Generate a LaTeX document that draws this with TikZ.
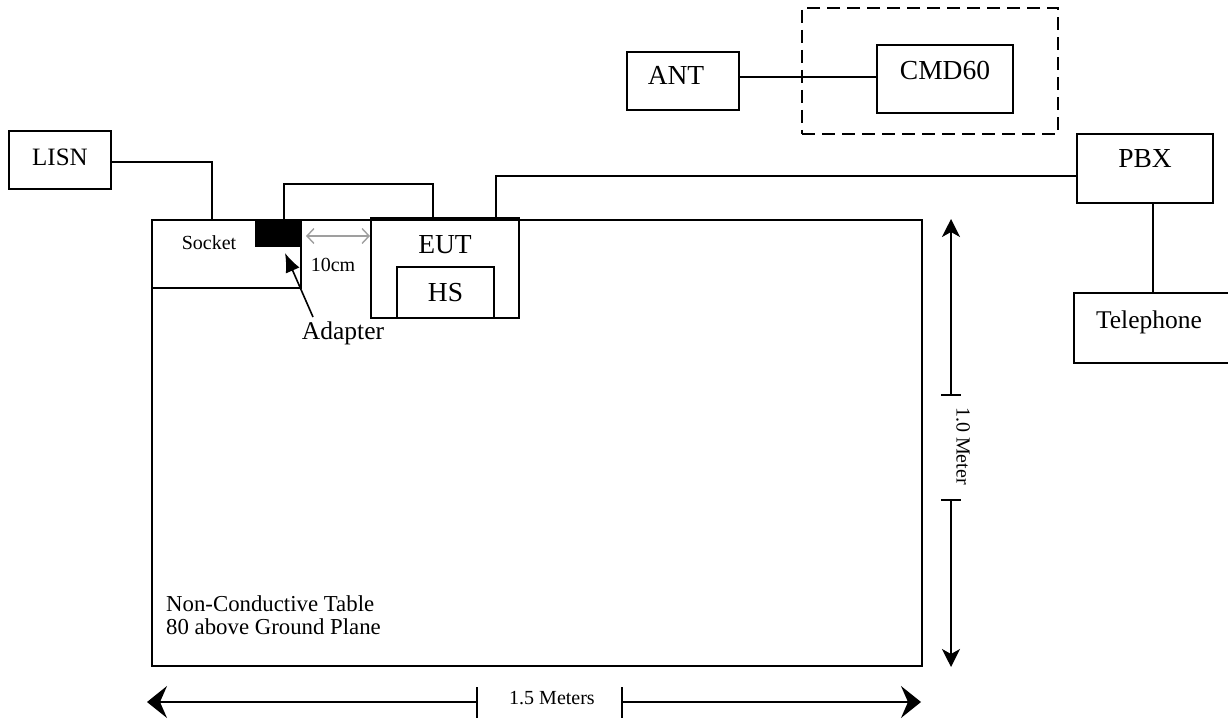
\documentclass[tikz,border=0pt]{standalone}
\usepackage{fontspec}
\setmainfont{Liberation Serif}
\usetikzlibrary{arrows.meta}
\newcommand{\myfs}[1]{\fontsize{#1}{#1}\selectfont}
\begin{document}
\begin{tikzpicture}[x=1pt,y=-1pt,
  box/.style={draw,line width=1.6pt,inner sep=0pt,rectangle},
  wire/.style={line width=1.6pt},
  big/.style={font=\myfs{27.5}},
  small/.style={font=\myfs{20}},
  vhead/.style={-{Stealth[length=18pt,width=18pt,inset=5pt]}},
  hhead/.style={-{Stealth[length=20pt,width=32pt,inset=7pt]}}]
\useasboundingbox (0,0) rectangle (1228,722);
% table and items on it
\node[box,minimum width=770,minimum height=446] (table) at (537,443) {};
\node[box,minimum width=149,minimum height=68] (socket) at (226.5,254) {};
\node[small] (sockettxt) at (209,243) {Socket};
\node[fill=black,inner sep=0pt,minimum width=46,minimum height=27] (adapter) at (278,233.5) {};
\node[box,minimum width=148,minimum height=100,big,text depth=48pt] (eut) at (445,268) {EUT};
\node[box,minimum width=97,minimum height=51,big] (hs) at (445.5,292.5) {HS};
\node[font=\fontsize{22.8}{23}\selectfont,align=left,anchor=south west,inner sep=0pt,text depth=0pt] (tabletxt) at (166,635) {Non-Conductive Table\\80 above Ground Plane};
% outside equipment
\node[box,minimum width=102,minimum height=58,font=\myfs{25},text depth=6pt] (lisn) at (60,160) {LISN};
\node[box,minimum width=112,minimum height=58,big,text depth=12pt] (ant) at (683,81) {\hspace*{-14pt}ANT};
\node[box,dashed,dash pattern=on 13pt off 7pt,minimum width=256,minimum height=126] (cmdzone) at (930,71) {};
\node[box,minimum width=136,minimum height=68,big,text depth=18pt] (cmd) at (945,79) {CMD60};
\node[box,minimum width=136,minimum height=69,big,text depth=21pt] (pbx) at (1145,168.5) {PBX};
\node[box,minimum width=160,minimum height=70,font=\myfs{25.5},text height=0pt,text depth=0pt] (tel) at (1154,328) {\hspace*{-10pt}Telephone};
% wires
\coordinate (lisnin) at (212,220);
\draw[wire] (lisn.east |- 0,162) -| (lisnin);
\coordinate (adout) at (284,220);
\coordinate (eutin) at (433,220);
\draw[wire] (adout) -- ++(0,-36) -| (eutin);
\coordinate (eutout) at (496,220);
\draw[wire] (eutout) |- (pbx.west |- 0,176);
\draw[wire] (ant.east |- 0,77) -- (cmd.west |- 0,77);
\draw[wire] (pbx.south -| 1153,0) -- (tel.north -| 1153,0);
% 10 cm spacing
\coordinate (g1) at (306,236);
\coordinate (g2) at (370,236);
\draw[line width=1.4pt,gray!75,{Straight Barb[length=7pt,width=15pt]}-{Straight Barb[length=7pt,width=15pt]}] (g1) -- (g2);
\node[small] (tencm) at (333,265) {10cm};
% adapter pointer
\coordinate (atail) at (313,317);
\coordinate (atip) at (285,253);
\draw[wire,-{Latex[length=19pt,width=15pt]}] (atail) -- (atip);
\node[font=\myfs{25.5}] (adtxt) at (343,333) {Adapter};
% vertical dimension
\coordinate (vt) at (951,219);
\coordinate (vt1) at (951,395);
\coordinate (vb1) at (951,500);
\coordinate (vb) at (951,667);
\draw[wire,vhead] (vt1) -- (vt);
\draw[wire,vhead] (vb1) -- (vb);
\draw[wire] ([xshift=-10pt]vt1) -- ([xshift=10pt]vt1);
\draw[wire] ([xshift=-10pt]vb1) -- ([xshift=10pt]vb1);
\node[small,rotate=-90] (vlab) at (963,446) {1.0 Meter};
% horizontal dimension
\coordinate (hl) at (147,702);
\coordinate (hl1) at (477,702);
\coordinate (hr1) at (622,702);
\coordinate (hr) at (921,702);
\draw[wire,hhead] (hl1) -- (hl);
\draw[wire,hhead] (hr1) -- (hr);
\draw[wire] ([yshift=15pt]hl1) -- ([yshift=-16pt]hl1);
\draw[wire] ([yshift=15pt]hr1) -- ([yshift=-16pt]hr1);
\node[small] (hlab) at (552,698) {1.5 Meters};
\end{tikzpicture}
\end{document}
